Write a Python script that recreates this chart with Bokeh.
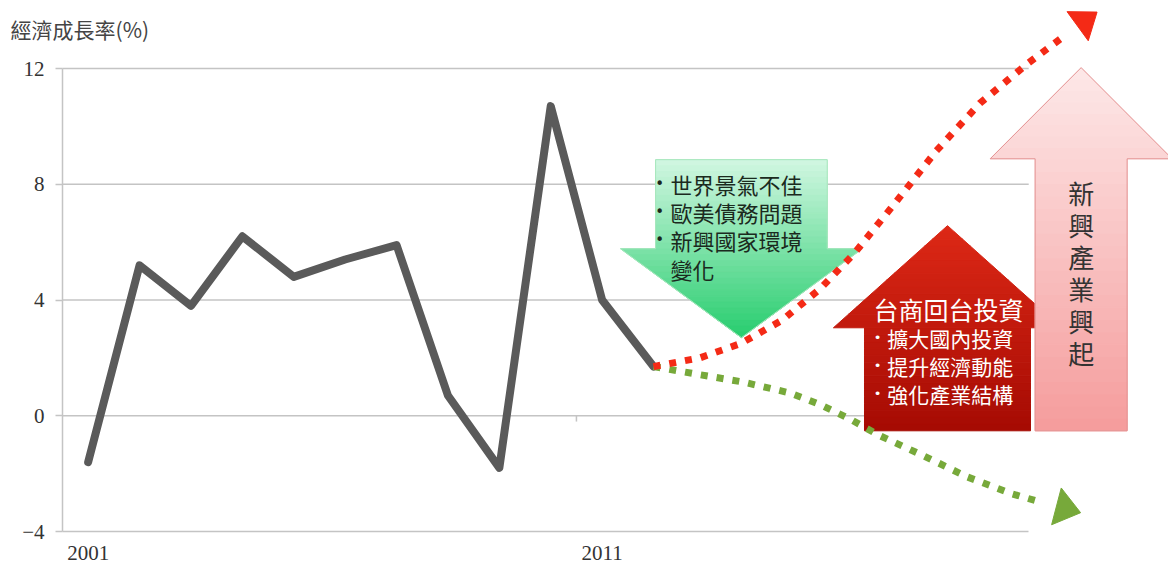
import math
from bokeh.plotting import figure
from bokeh.models import Range1d, LinearAxis, FixedTicker
from bokeh.core.properties import value
from bokeh.embed import file_html
from bokeh.resources import INLINE

# ---------------- data ----------------
years = [2001, 2002, 2003, 2004, 2005, 2006, 2007, 2008, 2009, 2010, 2011, 2012]
growth = [-1.6, 5.2, 3.8, 6.2, 4.8, 5.4, 5.9, 0.7, -1.8, 10.7, 4.0, 1.7]

y_ticks = [-4, 0, 4, 8, 12]
x_ticks = [2001, 2011]
y_title = "經濟成長率(%)"

# illustrative scenario paths (optimistic / pessimistic)
up_years = [2012, 2012.9, 2013.7, 2014.5, 2015.25, 2015.9, 2016.7, 2017.5, 2018.35, 2019.3, 2020.05]
up_vals = [1.7, 2.0, 2.5, 3.3, 4.4, 5.6, 7.35, 9.15, 10.8, 12.2, 13.2]
up_tip = (2020.63, 13.95)
down_years = [2012, 2012.9, 2013.73, 2014.65, 2015.25, 2015.81, 2016.37, 2017.25, 2018.1, 2018.98, 2019.58]
down_vals = [1.7, 1.42, 1.17, 0.79, 0.38, -0.10, -0.66, -1.38, -2.11, -2.70, -3.01]
down_tip = (2020.31, -3.35)

green_lines = ["世界景氣不佳", "歐美債務問題", "新興國家環境", "變化"]
green_bullet = [True, True, True, False]
red_title = "台商回台投資"
red_lines = ["擴大國內投資", "提升經濟動能", "強化產業結構"]
pink_text = "新興產業興起"

# ---------------- layout ----------------
W, H = 1168, 566
AX_X = 2000.5            # where the value axis stands
AX_Y = -4                # where the category axis stands
X0, X1 = 1999.294, 2022.02
Y0, Y1 = -5.209, 14.35
GRID_END = 2019.3
SX = W / (X1 - X0)
SY = H / (Y1 - Y0)

CJK = "Noto Sans CJK TC"
NUM = "Liberation Serif"

p = figure(width=W, height=H, x_range=Range1d(X0, X1), y_range=Range1d(Y0, Y1),
           output_backend="svg", toolbar_location=None,
           x_axis_location=None, y_axis_location=None,
           min_border_left=0, min_border_right=0, min_border_top=0,
           min_border_bottom=0)
p.outline_line_color = None
p.background_fill_color = "white"
p.border_fill_color = "white"
p.grid.visible = False

yaxis = LinearAxis(ticker=FixedTicker(ticks=y_ticks), bounds=(y_ticks[0], y_ticks[-1]),
                   fixed_location=AX_X)
yaxis.axis_line_color = "#c4c4c4"
yaxis.axis_line_width = 1.5
yaxis.major_tick_line_color = "#c4c4c4"
yaxis.major_tick_line_width = 1.5
yaxis.major_tick_out = 7
yaxis.major_tick_in = 0
yaxis.minor_tick_line_color = None
yaxis.major_label_standoff = 11
yaxis.major_label_text_font = NUM
yaxis.major_label_text_font_size = "21px"
yaxis.major_label_text_color = "#333333"
p.add_layout(yaxis, "left")

xaxis = LinearAxis(ticker=FixedTicker(ticks=x_ticks), bounds=(AX_X, GRID_END),
                   fixed_location=AX_Y)
xaxis.axis_line_color = "#c4c4c4"
xaxis.axis_line_width = 1.5
xaxis.major_tick_line_color = None
xaxis.minor_tick_line_color = None
xaxis.major_label_standoff = 8
xaxis.major_label_text_font = NUM
xaxis.major_label_text_font_size = "21px"
xaxis.major_label_text_color = "#333333"
p.add_layout(xaxis, "below")

# horizontal gridlines
gy = y_ticks[1:]
p.segment(x0=[AX_X] * len(gy), y0=gy, x1=[GRID_END] * len(gy), y1=gy,
          line_color="#c4c4c4", line_width=1.5)
# small category tick on the zero line
p.segment(x0=[2010.5], y0=[0], x1=[2010.5], y1=[-0.2], line_color="#c4c4c4", line_width=1.5)


def mix(c1, c2, t):
    t = max(0.0, min(1.0, t))
    a = [int(c1[i:i + 2], 16) for i in (1, 3, 5)]
    b = [int(c2[i:i + 2], 16) for i in (1, 3, 5)]
    return "#%02x%02x%02x" % tuple(round(a[k] + (b[k] - a[k]) * t) for k in range(3))


def block_arrow(xc, end_y, head_y, tip_y, body_hw, head_hw, c_back, c_tip, outline=None, n=30):
    xs, ys, cols = [], [], []
    span = tip_y - end_y
    nb = max(2, int(n * abs(head_y - end_y) / abs(span)))
    nh = max(2, n - nb)
    for i in range(nb):
        ya = end_y + (head_y - end_y) * i / nb
        yb = end_y + (head_y - end_y) * (i + 1) / nb
        xs.append([xc - body_hw, xc + body_hw, xc + body_hw, xc - body_hw])
        ys.append([ya, ya, yb, yb])
        cols.append(mix(c_back, c_tip, ((ya + yb) / 2 - end_y) / span))
    for i in range(nh):
        ya = head_y + (tip_y - head_y) * i / nh
        yb = head_y + (tip_y - head_y) * (i + 1) / nh
        ha = head_hw * (tip_y - ya) / (tip_y - head_y)
        hb = head_hw * (tip_y - yb) / (tip_y - head_y)
        xs.append([xc - ha, xc + ha, xc + hb, xc - hb])
        ys.append([ya, ya, yb, yb])
        cols.append(mix(c_back, c_tip, ((ya + yb) / 2 - end_y) / span))
    p.patches(xs=xs, ys=ys, fill_color=cols, line_color=cols, line_width=1)
    if outline:
        p.patch(x=[xc - body_hw, xc + body_hw, xc + body_hw, xc + head_hw, xc, xc - head_hw, xc - body_hw],
                y=[end_y, end_y, head_y, head_y, tip_y, head_y, head_y],
                fill_color=None, line_color=outline, line_width=1)


# green "down" block arrow
block_arrow(2013.71, 8.85, 5.77, 2.70, 1.67, 2.35, "#d2f7e2", "#27cd6e", outline="#a6e6bc")
# red "up" block arrow
block_arrow(2017.72, -0.52, 3.04, 6.57, 1.615, 2.22, "#a50b03", "#dd2816")
# pink "up" block arrow
block_arrow(2020.32, -0.52, 8.88, 12.03, 0.895, 1.77, "#f59c9c", "#fde8e8", outline="#e39393")

# historical growth line
p.line(years, growth, line_color="#5a5a5a", line_width=8, line_join="round", line_cap="round")

# scenario dotted lines
p.line(down_years, down_vals, line_color="#77a93a", line_width=7, line_dash="7 9", line_cap="butt")
p.line(up_years, up_vals, line_color="#f42a16", line_width=7, line_dash="7 9", line_cap="butt")


def head(tip, frm, length, half):
    dx = (tip[0] - frm[0]) * SX
    dy = (tip[1] - frm[1]) * SY
    L = math.hypot(dx, dy)
    ux, uy = dx / L, dy / L
    bx = tip[0] - length * ux / SX
    by = tip[1] - length * uy / SY
    px, py = -uy, ux
    return ([tip[0], bx + half * px / SX, bx - half * px / SX],
            [tip[1], by + half * py / SY, by - half * py / SY])


hx, hy = head(up_tip, (up_years[-1], up_vals[-1]), 24, 18)
p.patch(hx, hy, fill_color="#f42a16", line_color="#f42a16")
hx, hy = head(down_tip, (down_years[-1], down_vals[-1]), 25, 19)
p.patch(hx, hy, fill_color="#77a93a", line_color="#77a93a")

# green arrow text
gy0, gstep = 8.02, 0.978
p.text(x=[2012.12 for b in green_bullet if b], y=[gy0 - i * gstep for i, b in enumerate(green_bullet) if b],
       text=["•"] * sum(green_bullet), text_font=value("DejaVu Sans"), text_font_size="15px",
       text_color="#1b261b", text_align="center", text_baseline="middle")
p.text(x=[2012.33] * len(green_lines), y=[gy0 - i * gstep for i in range(len(green_lines))],
       text=green_lines, text_font=value(CJK), text_font_size="22px",
       text_color="#1b2a1e", text_align="left", text_baseline="middle")

# red arrow text
p.text(x=[2017.74], y=[3.70], text=[red_title], text_font=value(CJK), text_font_size="25px",
       text_color="white", text_align="center", text_baseline="middle")
ry0, rstep = 2.70, 0.97
p.text(x=[2016.36] * len(red_lines), y=[ry0 - i * rstep for i in range(len(red_lines))],
       text=["•"] * len(red_lines), text_font=value("DejaVu Sans"), text_font_size="13px",
       text_color="white", text_align="center", text_baseline="middle")
p.text(x=[2016.55] * len(red_lines), y=[ry0 - i * rstep for i in range(len(red_lines))],
       text=red_lines, text_font=value(CJK), text_font_size="21px",
       text_color="white", text_align="left", text_baseline="middle")

# pink arrow vertical text
chars = list(pink_text)
p.text(x=[2020.32] * len(chars), y=[7.71 - i * 1.106 for i in range(len(chars))],
       text=chars, text_font=value(CJK), text_font_size="26px",
       text_color="#333333", text_align="center", text_baseline="middle")

# axis title (top-left)
p.text(x=[1999.49], y=[13.37], text=[y_title], text_font=value(CJK), text_font_size="21px",
       text_color="#444444", text_align="left", text_baseline="middle")

open("out.html", "w").write(file_html(p, INLINE))
